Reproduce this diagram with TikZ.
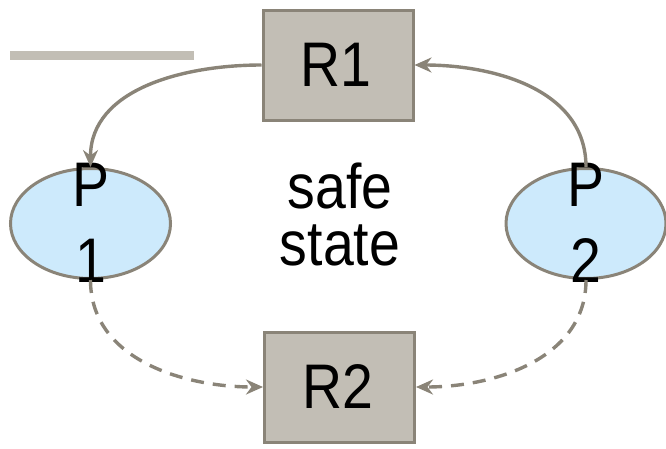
\documentclass[tikz,border=0pt]{standalone}
\usepackage{fontspec}
\setmainfont[FakeStretch=0.88]{Liberation Sans}
\usetikzlibrary{shapes.geometric,arrows.meta}
\definecolor{edgegray}{HTML}{8A8478}
\definecolor{boxfill}{HTML}{C2BEB5}
\definecolor{procfill}{HTML}{CDEAFC}
\tikzset{
  resbox/.style={draw=edgegray, fill=boxfill, line width=3pt, minimum width=150pt, minimum height=110pt, inner sep=0pt},
  procshape/.style={draw=edgegray, fill=procfill, line width=3pt, ellipse, minimum width=160pt, minimum height=110pt, inner sep=0pt},
  bigtext/.style={font=\fontsize{63pt}{63pt}\selectfont, text=black, align=center, inner sep=0pt},
  proctext/.style={bigtext, font=\fontsize{63pt}{76pt}\selectfont},
  captext/.style={bigtext, font=\fontsize{63pt}{57pt}\selectfont},
  conn/.style={draw=edgegray, line width=3.4pt, -{Stealth[length=17pt,width=15pt]}},
  dashconn/.style={conn, dash pattern=on 13pt off 9pt}
}
\begin{document}
\begin{tikzpicture}[x=1pt,y=-1pt]
  \useasboundingbox (0,0) rectangle (666,448);
  % legend bar
  \fill[boxfill] (10,51) rectangle (194,60);
  % resources
  \node[resbox] (r1) at (338,65) {};
  \node[bigtext] (r1t) at (336,64.5) {R1};
  \node[resbox] (r2) at (339.5,387) {};
  \node[bigtext] (r2t) at (337.5,386.5) {R2};
  % processes
  \node[procshape] (p1) at (90.5,223.5) {};
  \node[proctext] (p1t) at (90.5,223) {P\\1};
  \node[procshape] (p2) at (586,223.5) {};
  \node[proctext] (p2t) at (586,223) {P\\2};
  % center caption
  \node[captext] (cap) at (340,214.5) {safe\\state};
  % request / assignment edges
  \draw[conn] (r1.west) to[out=180,in=90] (p1.north);
  \draw[conn] (p2.north) to[out=90,in=0] (r1.east);
  \draw[dashconn] (p1.south) to[out=-90,in=180] (r2.west);
  \draw[dashconn] (p2.south) to[out=-90,in=0] (r2.east);
\end{tikzpicture}
\end{document}
